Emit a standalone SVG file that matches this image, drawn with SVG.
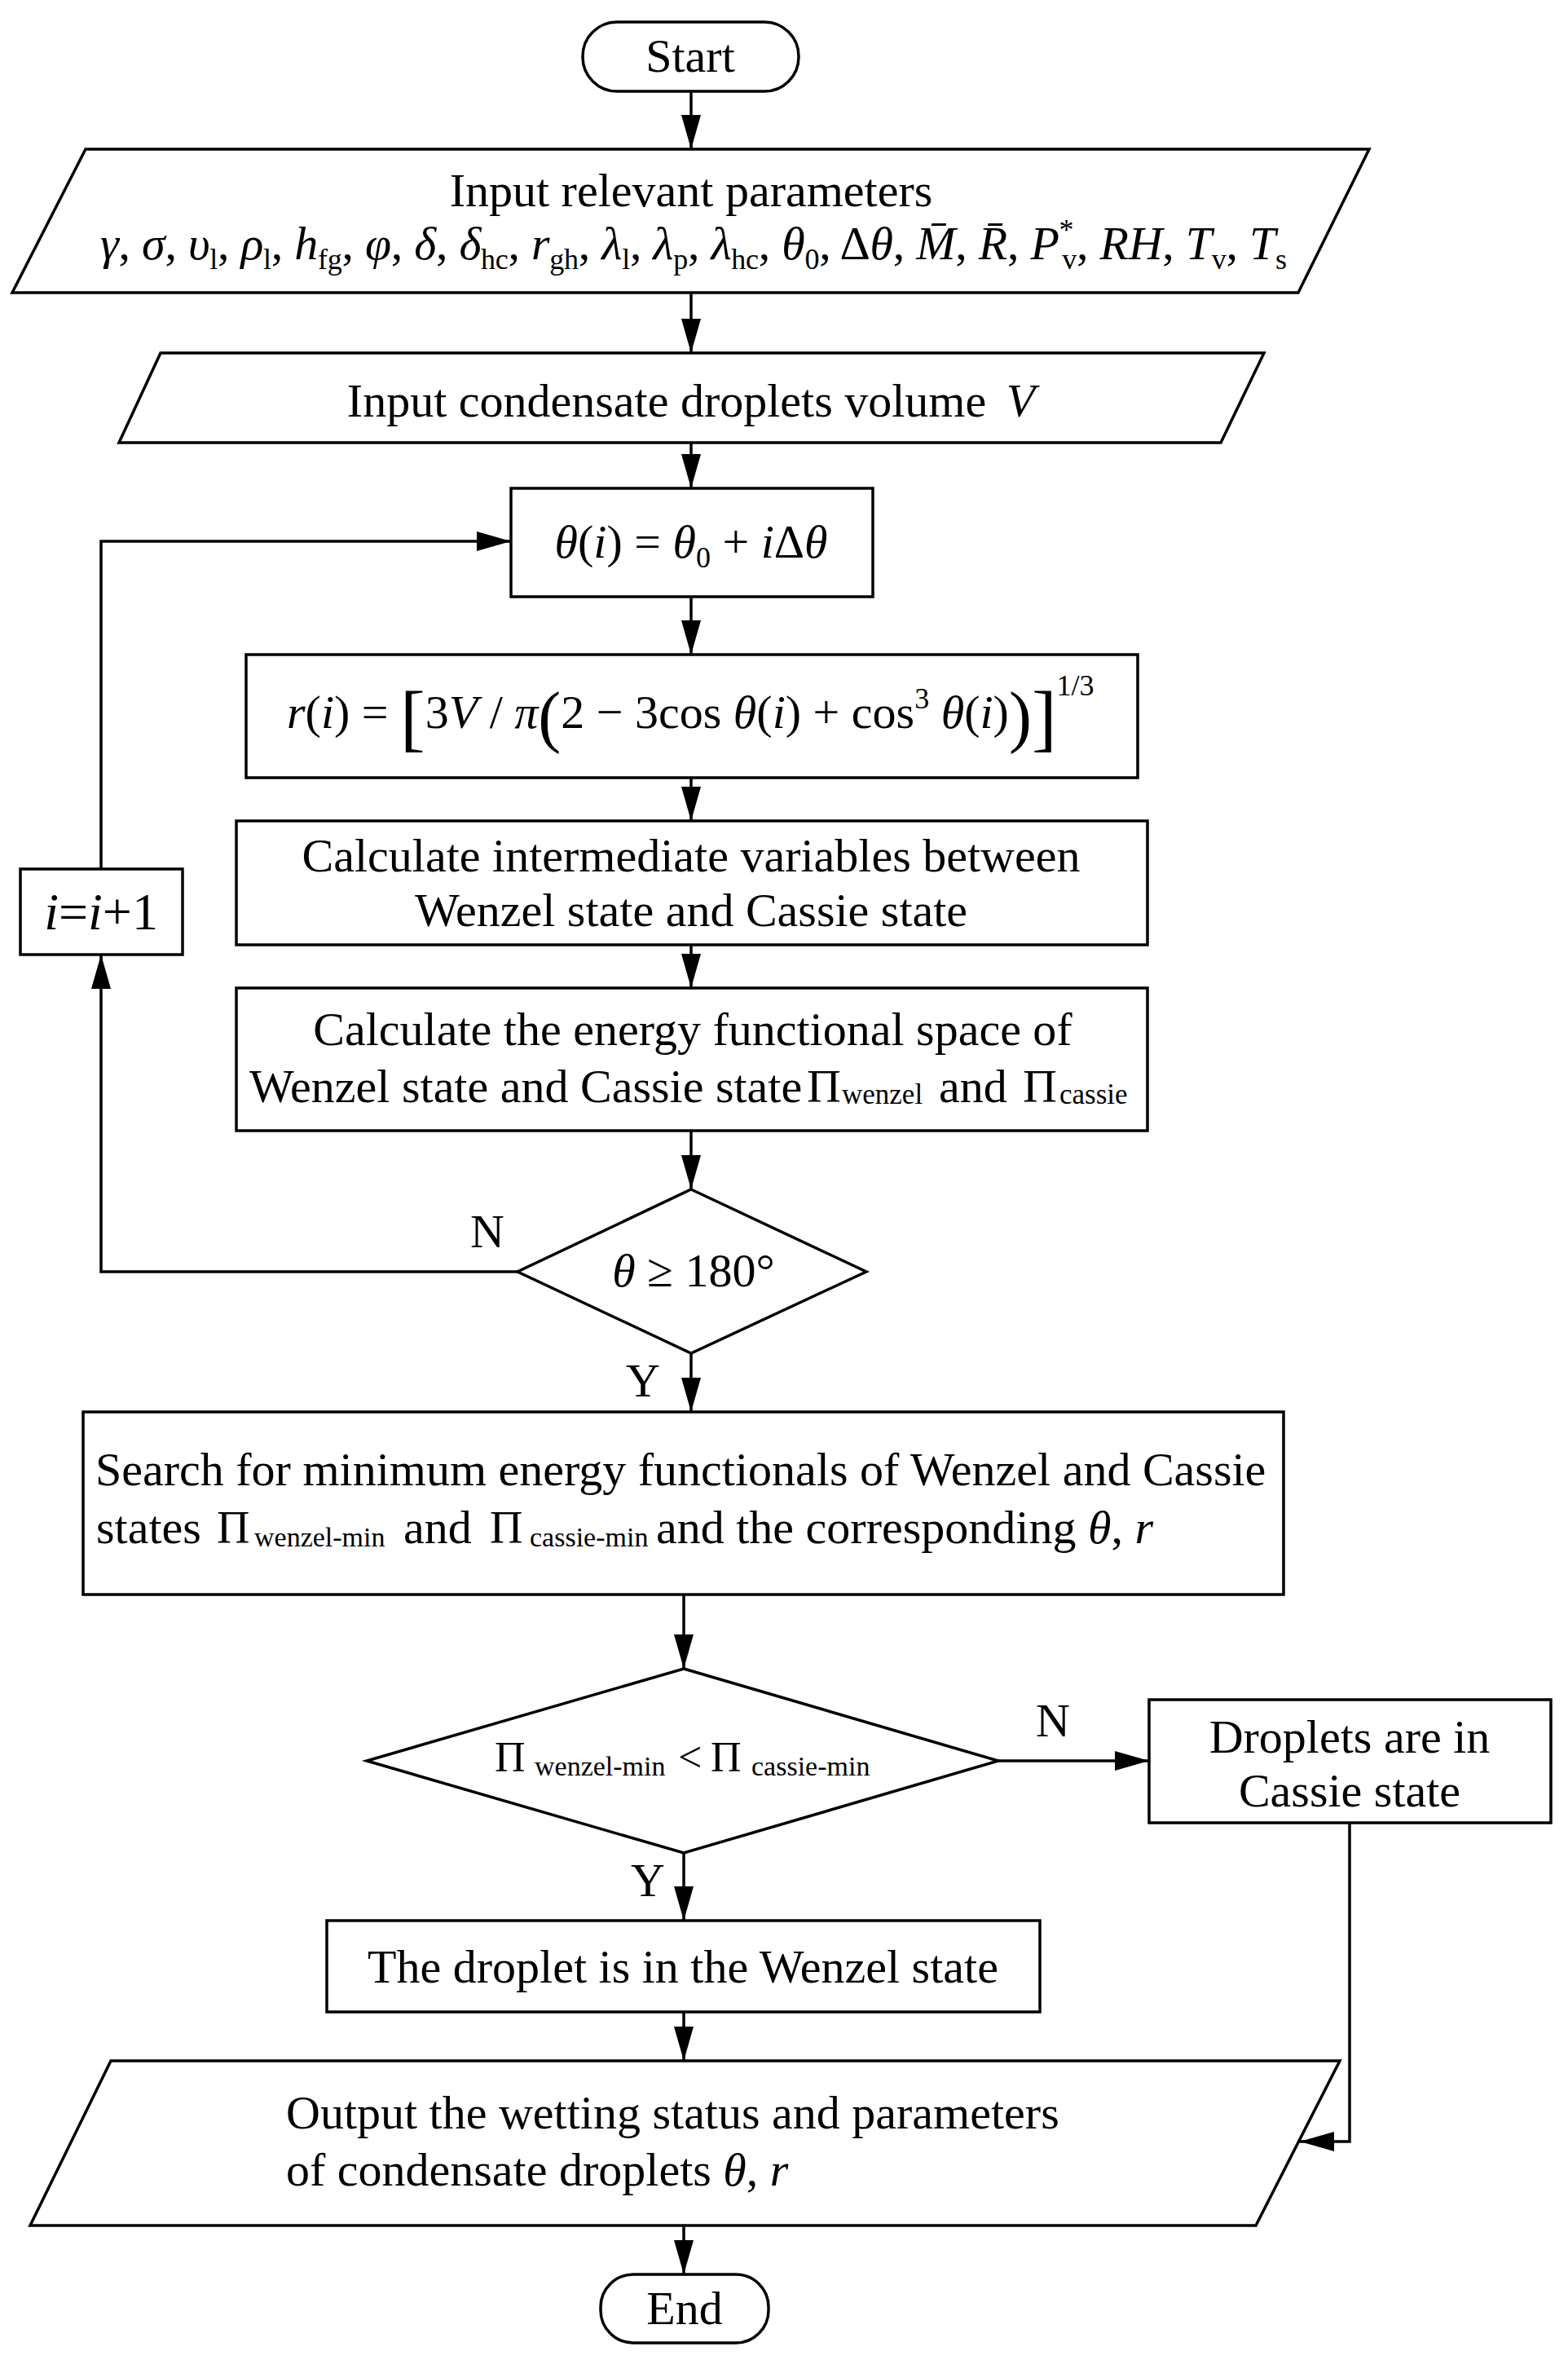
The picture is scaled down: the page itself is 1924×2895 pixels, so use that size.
<svg xmlns="http://www.w3.org/2000/svg" width="1924" height="2895" viewBox="0 0 1924 2895">
<style>
.ln{fill:none;stroke:#000;stroke-width:3.5}
.bx{fill:#fff;stroke:#000;stroke-width:3.5}
.t{font-family:"Liberation Serif","Times New Roman",serif;font-size:58px;fill:#000}
.c{text-anchor:middle}
.i{font-style:italic}
.s{font-size:36px}
.ss{font-size:34px}
.sw{font-size:35px}
.br{font-size:92px}
.pa{font-size:84px}
</style>
<defs>
<marker id="ah" markerUnits="userSpaceOnUse" markerWidth="44" markerHeight="26" viewBox="0 0 44 26" refX="42" refY="12" orient="auto"><path d="M0,0 L42,12 L0,24 z" fill="#000"/></marker>
</defs>
<rect width="1924" height="2895" fill="#fff"/>
<g id="connectors" class="ln" marker-end="url(#ah)">
<path d="M848,112 V183"/>
<path d="M848,359 V433"/>
<path d="M848,543 V599"/>
<path d="M848,732 V803"/>
<path d="M848,954 V1007"/>
<path d="M848,1159 V1212"/>
<path d="M848,1387 V1459"/>
<path d="M848,1660 V1732"/>
<path d="M635,1560 H124 V1171"/>
<path d="M124,1066 V664 H627"/>
<path d="M839,1956 V2047"/>
<path d="M1225,2160 H1410"/>
<path d="M839,2273 V2356"/>
<path d="M839,2468 V2528"/>
<path d="M1656,2236 V2627 H1595"/>
<path d="M839,2730 V2790"/>
</g>
<g id="start"><rect class="bx" x="715" y="27" width="265" height="85" rx="42"/><text class="t c" x="847" y="88">Start</text></g>
<g id="input-params"><polygon class="bx" points="105,183 1680,183 1593,359 15,359"/>
<text class="t c" x="848" y="253">Input relevant parameters</text>
<text class="t" x="123" y="318" textLength="1456" lengthAdjust="spacing"><tspan class="i">γ</tspan>, <tspan class="i">σ</tspan>, <tspan class="i">υ</tspan><tspan class="s" dy="12">l</tspan><tspan dy="-12">, </tspan><tspan class="i">ρ</tspan><tspan class="s" dy="12">l</tspan><tspan dy="-12">, </tspan><tspan class="i">h</tspan><tspan class="s" dy="12">fg</tspan><tspan dy="-12">, </tspan><tspan class="i">φ</tspan>, <tspan class="i">δ</tspan>, <tspan class="i">δ</tspan><tspan class="s" dy="12">hc</tspan><tspan dy="-12">, </tspan><tspan class="i">r</tspan><tspan class="s" dy="12">gh</tspan><tspan dy="-12">, </tspan><tspan class="i">λ</tspan><tspan class="s" dy="12">l</tspan><tspan dy="-12">, </tspan><tspan class="i">λ</tspan><tspan class="s" dy="12">p</tspan><tspan dy="-12">, </tspan><tspan class="i">λ</tspan><tspan class="s" dy="12">hc</tspan><tspan dy="-12">, </tspan><tspan class="i">θ</tspan><tspan class="s" dy="12">0</tspan><tspan dy="-12">, Δ</tspan><tspan class="i">θ</tspan>, <tspan class="i">M̄</tspan>, <tspan class="i">R̄</tspan>, <tspan class="i">P</tspan><tspan class="s" dy="-24">*</tspan><tspan class="s" dx="-14" dy="36">v</tspan><tspan dy="-12">, </tspan><tspan class="i">RH</tspan>, <tspan class="i">T</tspan><tspan class="s" dy="12">v</tspan><tspan dy="-12">, </tspan><tspan class="i">T</tspan><tspan class="s" dy="12">s</tspan></text>
</g>
<g id="input-volume"><polygon class="bx" points="197,433 1551,433 1498,543 146,543"/>
<text class="t c" x="848" y="511">Input condensate droplets volume <tspan class="i" dx="10">V</tspan></text></g>
<g id="theta-init"><rect class="bx" x="627" y="599" width="444" height="133"/>
<text class="t c" x="848" y="684"><tspan class="i">θ</tspan>(<tspan class="i">i</tspan>) = <tspan class="i">θ</tspan><tspan class="s" dy="12">0</tspan><tspan dy="-12"> + </tspan><tspan class="i">i</tspan>Δ<tspan class="i">θ</tspan></text></g>
<g id="radius"><rect class="bx" x="302" y="803" width="1094" height="151"/>
<text class="t" x="352" y="893"><tspan class="i">r</tspan>(<tspan class="i">i</tspan>) = <tspan class="br" dy="18">[</tspan><tspan dy="-18">3</tspan><tspan class="i">V</tspan> / <tspan class="i">π</tspan><tspan class="pa" dy="14">(</tspan><tspan dy="-14">2 − 3cos </tspan><tspan class="i">θ</tspan>(<tspan class="i">i</tspan>) + cos<tspan class="s" dy="-24">3</tspan><tspan dy="24"> </tspan><tspan class="i">θ</tspan>(<tspan class="i">i</tspan>)<tspan class="pa" dy="14">)</tspan><tspan class="br" dy="4">]</tspan><tspan class="s" dy="-58">1/3</tspan></text></g>
<g id="intermediate"><rect class="bx" x="290" y="1007" width="1118" height="152"/>
<text class="t c" x="848" y="1069">Calculate intermediate variables between</text>
<text class="t c" x="848" y="1136">Wenzel state and Cassie state</text></g>
<g id="increment"><rect class="bx" x="25" y="1066" width="199" height="105"/>
<text class="t c" x="124" y="1140" style="font-size:64px"><tspan class="i">i</tspan>=<tspan class="i">i</tspan>+1</text></g>
<g id="energy"><rect class="bx" x="290" y="1212" width="1118" height="175"/>
<text class="t c" x="850" y="1282">Calculate the energy functional space of</text>
<text class="t" x="306" y="1352">Wenzel state and Cassie state</text>
<text class="t" x="990" y="1352">Π</text><text class="t sw" x="1033" y="1354">wenzel</text>
<text class="t" x="1152" y="1352">and</text>
<text class="t" x="1255" y="1352">Π</text><text class="t sw" x="1300" y="1354">cassie</text></g>
<g id="decision-angle"><polygon class="bx" points="848,1459 1063,1560 848,1660 635,1560"/>
<text class="t c" x="851" y="1578"><tspan class="i">θ</tspan> ≥ 180°</text></g>
<g id="label-n1"><text class="t c" x="598" y="1530">N</text></g>
<g id="label-y1"><text class="t c" x="789" y="1713">Y</text></g>
<g id="search"><rect class="bx" x="102" y="1732" width="1473" height="224"/>
<text class="t" x="117" y="1822">Search for minimum energy functionals of Wenzel and Cassie</text>
<text class="t" x="118" y="1893">states</text>
<text class="t" x="266" y="1893" style="font-size:56px">Π</text><text class="t ss" x="312" y="1897">wenzel-min</text>
<text class="t" x="495" y="1893">and</text>
<text class="t" x="601" y="1893" style="font-size:56px">Π</text><text class="t ss" x="650" y="1897">cassie-min</text>
<text class="t" x="805" y="1893">and the corresponding <tspan class="i">θ</tspan>, <tspan class="i">r</tspan></text></g>
<g id="decision-energy"><polygon class="bx" points="839,2047 1225,2160 839,2273 450,2160"/>
<text class="t" x="607" y="2173" style="font-size:52px">Π</text><text class="t ss" x="656" y="2178">wenzel-min</text>
<text class="t" x="832" y="2173" style="font-size:52px">&lt;</text>
<text class="t" x="872" y="2173" style="font-size:52px">Π</text><text class="t ss" x="922" y="2178">cassie-min</text></g>
<g id="label-n2"><text class="t c" x="1292" y="2130">N</text></g>
<g id="cassie"><rect class="bx" x="1410" y="2085" width="493" height="151"/>
<text class="t c" x="1656" y="2150">Droplets are in</text>
<text class="t c" x="1656" y="2216">Cassie state</text></g>
<g id="label-y2"><text class="t c" x="795" y="2326">Y</text></g>
<g id="wenzel"><rect class="bx" x="401" y="2356" width="875" height="112"/>
<text class="t c" x="838" y="2432">The droplet is in the Wenzel state</text></g>
<g id="output"><polygon class="bx" points="136,2528 1644,2528 1541,2730 37,2730"/>
<text class="t" x="351" y="2611">Output the wetting status and parameters</text>
<text class="t" x="351" y="2681">of condensate droplets <tspan class="i">θ</tspan>, <tspan class="i">r</tspan></text></g>
<g id="end"><rect class="bx" x="737" y="2790" width="206" height="84" rx="40"/><text class="t c" x="840" y="2851">End</text></g>
</svg>
